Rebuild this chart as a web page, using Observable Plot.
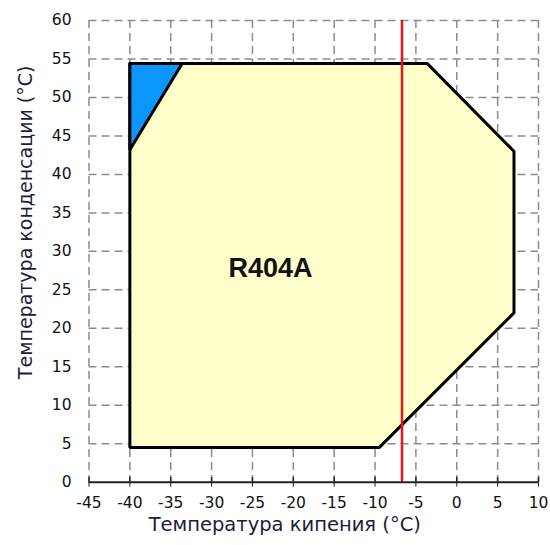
<!DOCTYPE html>
<html><head><meta charset="utf-8">
<script src="https://cdn.jsdelivr.net/npm/d3@7"></script>
<script src="https://cdn.jsdelivr.net/npm/@observablehq/plot@0.6"></script>
<style>body{margin:0;background:#fff;font-family:"DejaVu Sans",sans-serif}</style>
</head><body><div id="chart"></div>
<script>
// Operating envelope R404A (evaporating temp °C, condensing temp °C)
const envelopeX = [-40, -3.6, 7, 7, -9.5, -40, -40];
const envelopeY = [54.4, 54.4, 43, 22, 4.5, 4.5, 54.4];
// Blue zone in the upper-left corner
const zoneX = [-40, -33.6, -40, -40];
const zoneY = [54.4, 54.4, 43.2, 54.4];
// Red vertical reference line
const refX = [-6.7];
const xTicks = [-45, -40, -35, -30, -25, -20, -15, -10, -5, 0, 5, 10];
const yTicks = [0, 5, 10, 15, 20, 25, 30, 35, 40, 45, 50, 55, 60];
const label = "R404A";
const labelPos = {x: -22.8, y: 27.8};
const xTitle = "Температура кипения (°C)";
const yTitle = "Температура конденсации (°C)";

const envelope = envelopeX.map((x, i) => ({x, y: envelopeY[i]}));
const zone = zoneX.map((x, i) => ({x, y: zoneY[i]}));

const chart = Plot.plot({
  width: 550,
  height: 545,
  marginLeft: 88.5,
  marginRight: 12,
  marginTop: 20,
  marginBottom: 63.3,
  style: {fontFamily: "'DejaVu Sans', sans-serif", fontSize: "15px", color: "#111", background: "#fff"},
  x: {type: "linear", domain: [-45, 10]},
  y: {type: "linear", domain: [0, 60]},
  marks: [
    Plot.gridX(xTicks, {stroke: "#8c8c8c", strokeOpacity: 1, strokeWidth: 1.5, strokeDasharray: "8,5"}),
    Plot.gridY(yTicks.filter(d => d > 0), {stroke: "#8c8c8c", strokeOpacity: 1, strokeWidth: 1.5, strokeDasharray: "8,5"}),
    Plot.line(envelope, {x: "x", y: "y", fill: "#FFFFCC", stroke: "#000", strokeWidth: 3, strokeLinejoin: "miter"}),
    Plot.line(zone, {x: "x", y: "y", fill: "#0A96FA", stroke: "#000", strokeWidth: 3, strokeLinejoin: "miter"}),
    Plot.ruleX(refX, {stroke: "#E01818", strokeWidth: 2.5}),
    Plot.ruleY([0], {stroke: "#222", strokeWidth: 2}),
    Plot.ruleX(xTicks, {y1: 0, y2: 0.6, stroke: "#222", strokeWidth: 1.5}),
    Plot.axisX(xTicks, {tickSize: 5, tickPadding: 10, stroke: "#222", fontSize: 15.5, tickFormat: d => String(d), label: null}),
    Plot.axisY(yTicks, {tickSize: 0, tickPadding: 17.5, fontSize: 15.5, tickFormat: d => String(d), label: null}),
    Plot.text([label], {x: () => labelPos.x, y: () => labelPos.y, text: d => d, fontFamily: "'Liberation Sans', Arial, sans-serif", fontSize: 27, fontWeight: "bold", fill: "#111"}),
    Plot.text([xTitle], {frameAnchor: "bottom", dx: -29, dy: 49, text: d => d, fontSize: 19.5, fill: "#1c1c3a"}),
    Plot.text([yTitle], {frameAnchor: "left", dx: -63.5, dy: -29, rotate: -90, textAnchor: "middle", text: d => d, fontSize: 19, fill: "#1c1c3a"})
  ]
});
document.getElementById("chart").append(chart);
</script>
</body></html>
